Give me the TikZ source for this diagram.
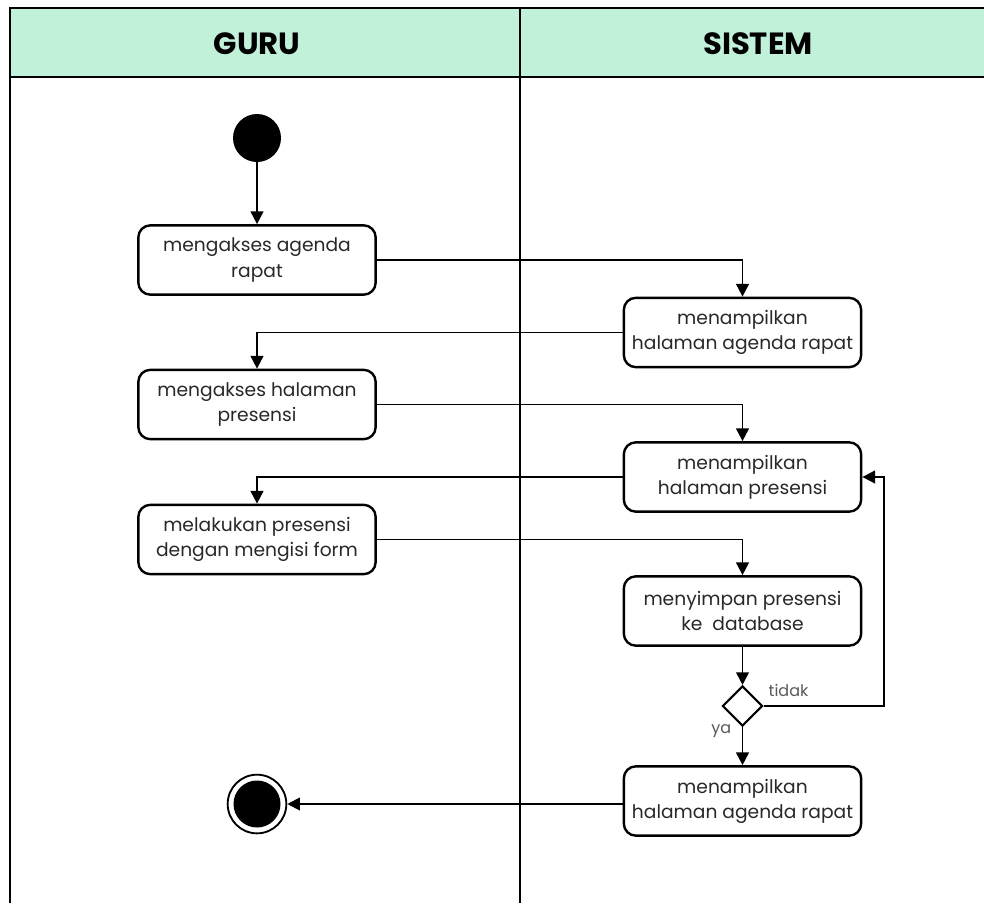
\documentclass[tikz,border=0pt]{standalone}
\usepackage{fontspec}
\setmainfont{Poppins}
\usetikzlibrary{arrows.meta,shapes.geometric}
\definecolor{lanehead}{RGB}{194,241,218}
\definecolor{ink}{RGB}{40,40,40}
\begin{document}
\begin{tikzpicture}[x=0.75pt,y=-0.75pt,
  act/.style={draw, line width=1.8pt, rounded corners=9pt, minimum width=178pt,
    minimum height=52pt, align=center, inner sep=2pt, text=ink,
    font=\fontsize{14}{18.8}\selectfont},
  flow/.style={line width=1.4pt, -{Triangle[length=9.5pt,width=9.5pt]}},
  lane/.style={line width=1.5pt},
  head/.style={font=\bfseries\fontsize{23}{25}\selectfont, text=black},
  guard/.style={text=black!65, font=\fontsize{12}{14}\selectfont}
]
\clip (0,0) rectangle (984,903);
\fill[white] (0,0) rectangle (984,903);

% swimlane frame
\fill[lanehead] (10,8) rectangle (990,77);
\draw[lane] (10,903) -- (10,8) -- (990,8);
\draw[lane] (10,77) -- (990,77);
\draw[lane] (520,8) -- (520,903);
\node[head] (guru) at (257,44) {GURU};
\node[head] (sistem) at (758,44) {SISTEM};

% initial and final states
\node[circle, fill=black, minimum size=36pt, inner sep=0pt] (start) at (257,138) {};
\node[circle, draw, line width=1.4pt, minimum size=44pt, inner sep=0pt] (stop) at (257,804) {};
\fill (stop.center) circle (23.5);

% activities
\node[act] (b1) at (257,260) {mengakses agenda\\rapat};
\node[act] (b2) at (742.5,332.5) {menampilkan\\halaman agenda rapat};
\node[act] (b3) at (257,404.5) {mengakses halaman\\presensi};
\node[act] (b4) at (742.5,477) {menampilkan\\halaman presensi};
\node[act] (b5) at (257,539.5) {melakukan presensi\\dengan mengisi form};
\node[act] (b6) at (742.5,611) {menyimpan presensi\\ke~ database};
\node[act] (b7) at (742.5,801) {menampilkan\\halaman agenda rapat};

% decision
\node[diamond, draw, line width=1.6pt, minimum width=30pt, minimum height=30pt, inner sep=0pt] (dec) at (742.5,706) {};
\node[guard, anchor=west] (tidak) at (764,690) {tidak};
\node[guard, anchor=east] (ya) at (736,731) {ya};
\coordinate (loop) at (884,706);

% control flow
\draw[flow] (start) -- (b1);
\draw[flow] (b1.east) -| (b2.north);
\draw[flow] (b2.west) -| (b3.north);
\draw[flow] (b3.east) -| (b4.north);
\draw[flow] (b4.west) -| (b5.north);
\draw[flow] (b5.east) -| (b6.north);
\draw[flow] (b6) -- (dec);
\draw[flow] (dec.east) -- (loop) |- (b4.east);
\draw[flow] (dec) -- (b7);
\draw[flow] (b7.west |- stop.east) -- (stop.east);
\end{tikzpicture}
\end{document}
